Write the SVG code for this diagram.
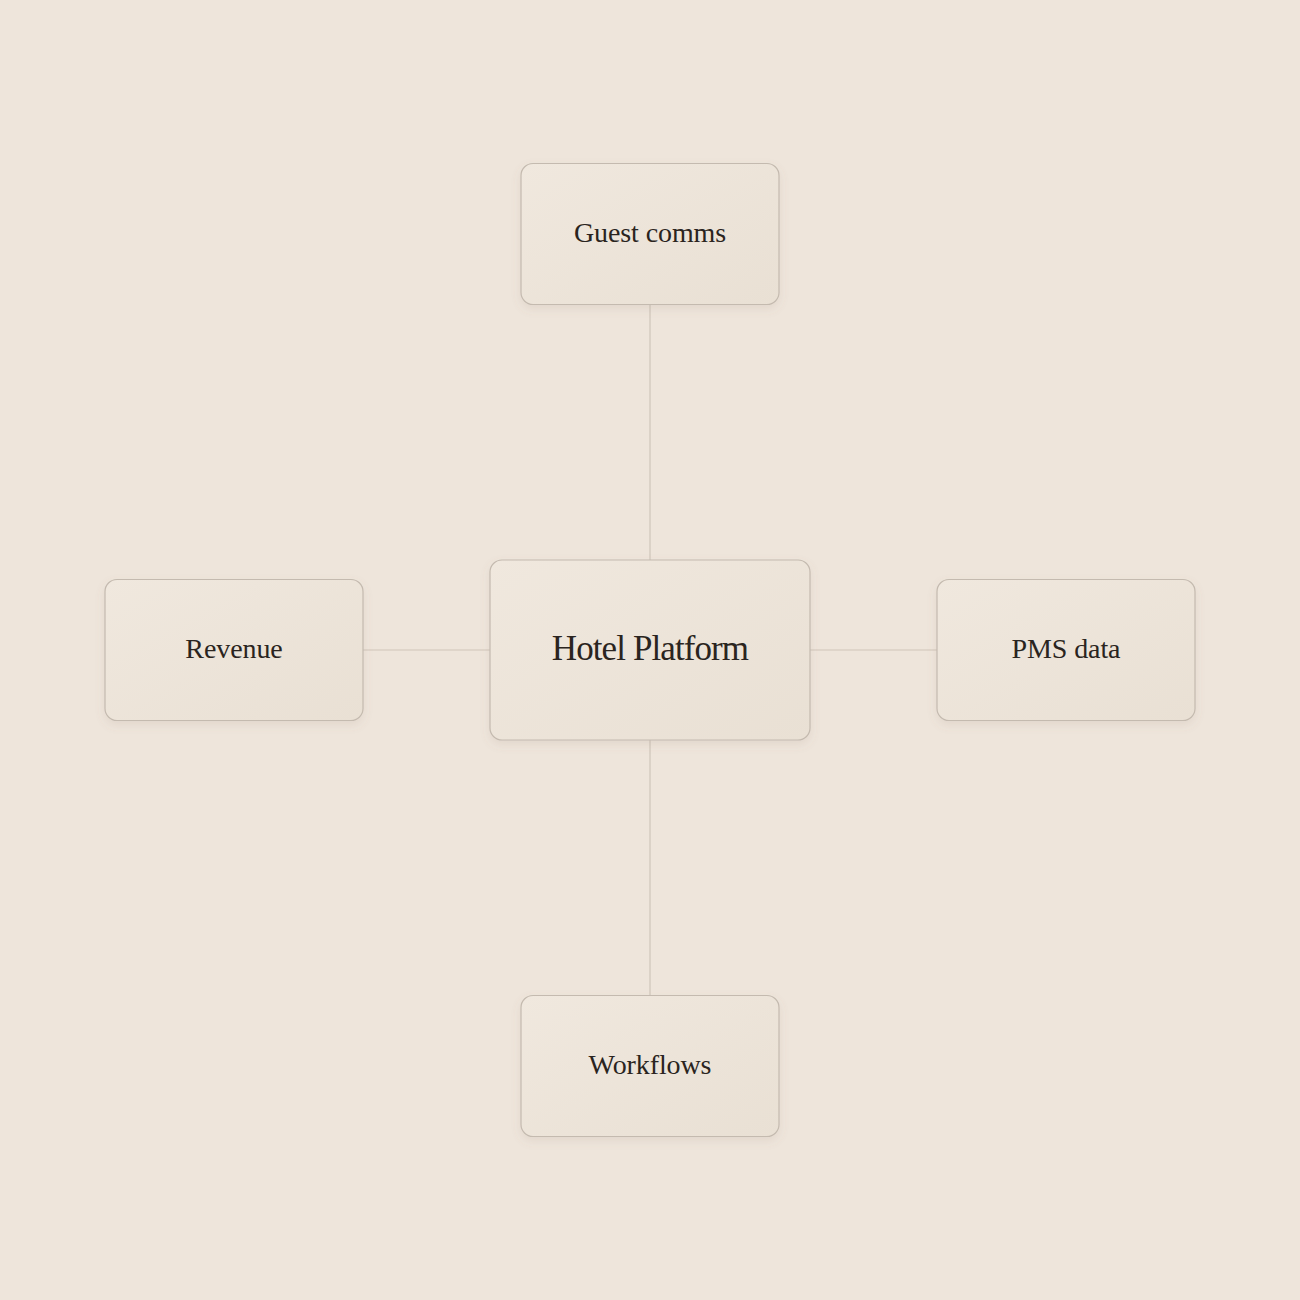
<svg xmlns="http://www.w3.org/2000/svg" width="1300" height="1300" viewBox="0 0 1300 1300">
<defs>
<linearGradient id="nodeFill" x1="0" y1="0" x2="1" y2="1">
<stop offset="0" stop-color="#F0E8DE"/>
<stop offset="1" stop-color="#E9E0D4"/>
</linearGradient>
<filter id="shadow" x="-20%" y="-20%" width="140%" height="150%">
<feDropShadow dx="0" dy="4" stdDeviation="5" flood-color="#8A7560" flood-opacity="0.12"/>
</filter>
</defs>
<style>
.node rect{fill:url(#nodeFill);stroke:#C4BAAF;stroke-width:1.2;filter:url(#shadow)}
.node text{font-family:"Liberation Serif","DejaVu Serif",serif;fill:#2A2420;text-anchor:middle;dominant-baseline:central}
.lbl{font-size:28px;letter-spacing:-0.1px}
.main{font-size:35px;letter-spacing:-0.9px}
.edges line{stroke:#CFC5BA;stroke-width:1.2}
</style>
<rect width="1300" height="1300" fill="#EEE5DB"/>
<g class="edges">
<line x1="650" y1="304" x2="650" y2="560"/>
<line x1="650" y1="740" x2="650" y2="995"/>
<line x1="363" y1="650" x2="490" y2="650"/>
<line x1="810" y1="650" x2="937" y2="650"/>
</g>
<g id="guest" class="node"><rect x="521" y="163.5" width="258" height="141" rx="12"/><text class="lbl" x="650" y="232.5">Guest comms</text></g>
<g id="revenue" class="node"><rect x="105" y="579.5" width="258" height="141" rx="12"/><text class="lbl" x="234" y="648.5">Revenue</text></g>
<g id="pms" class="node"><rect x="937" y="579.5" width="258" height="141" rx="12"/><text class="lbl" x="1066" y="648.5">PMS data</text></g>
<g id="workflows" class="node"><rect x="521" y="995.5" width="258" height="141" rx="12"/><text class="lbl" x="650" y="1064.5">Workflows</text></g>
<g id="hotel" class="node"><rect x="490" y="560" width="320" height="180" rx="12"/><text class="main" x="650" y="648.5">Hotel Platform</text></g>
</svg>
